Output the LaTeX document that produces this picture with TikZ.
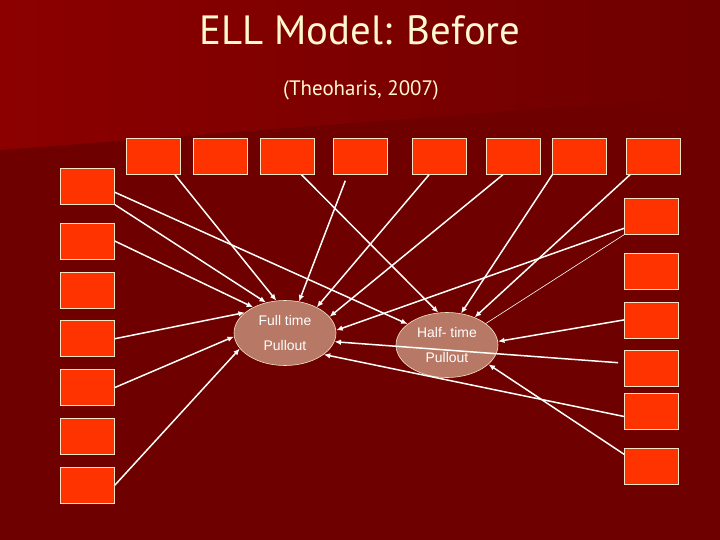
\documentclass[tikz,border=0pt]{standalone}
\usepackage{fontspec}
\setmainfont{Liberation Sans}
\newfontfamily\titlefont{PT Sans}
\usetikzlibrary{positioning,arrows.meta,shapes.geometric}
\definecolor{slidebg}{RGB}{110,0,0}
\definecolor{slidetop}{RGB}{140,0,0}
\definecolor{boxred}{RGB}{255,51,0}
\definecolor{boxedge}{RGB}{245,228,200}
\definecolor{ovalfill}{RGB}{183,121,101}
\definecolor{titlecream}{RGB}{255,248,208}

\begin{document}
\begin{tikzpicture}[
        x=1bp, y=-1bp,
        every node/.style={font=\fontsize{14}{25}\selectfont, text=white!96!boxedge},
        cell/.style={draw=boxedge, fill=boxred, line width=0.8bp, minimum width=54bp, minimum height=36bp, inner sep=0pt},
        oval/.style={ellipse, draw=boxedge, fill=ovalfill, line width=0.6bp, minimum width=102bp, minimum height=65bp, inner sep=0pt, align=center},
        arrow/.style={-{Latex[length=6.5bp,width=5.5bp]}, line width=1.5bp, white!95!boxedge},
        thinline/.style={line width=0.6bp, white!95!boxedge}
    ]
        % Background
        \useasboundingbox (0,0) rectangle (720,540);
        \fill[slidebg] (0,0) rectangle (720,540);
        \shade[left color=slidetop, right color=slidebg] (0,0) -- (720,0) -- (720,95) -- (0,150) -- cycle;

        % Titles
        \node[font=\titlefont\fontsize{41}{41}\selectfont, text=titlecream] (title) at (360,30) {ELL Model: Before};
        \node[font=\titlefont\fontsize{21}{21}\selectfont, text=titlecream] (cite) at (361,90.5) {(Theoharis, 2007)};

        % Top row
        \node[cell] (t1) at (153.5,156.3) {};
        \node[cell, right=12bp of t1] (t2) {};
        \node[cell, right=12.4bp of t2] (t3) {};
        \node[cell, right=18bp of t3] (t4) {};
        \node[cell, right=24bp of t4] (t5) {};
        \node[cell, right=19bp of t5] (t6) {};
        \node[cell, right=12bp of t6] (t7) {};
        \node[cell, right=19bp of t7] (t8) {};

        % Left column
        \node[cell] (l1) at (87.5,186.3) {};
        \node[cell, below=18bp of l1] (l2) {};
        \node[cell, below=12bp of l2] (l3) {};
        \node[cell, below=12bp of l3] (l4) {};
        \node[cell, below=12bp of l4] (l5) {};
        \node[cell, below=12bp of l5] (l6) {};
        \node[cell, below=12bp of l6] (l7) {};

        % Right column
        \node[cell] (r1) at (651.5,216.3) {};
        \node[cell, below=18bp of r1] (r2) {};
        \node[cell, below=12bp of r2] (r3) {};
        \node[cell, below=12bp of r3] (r4) {};
        \node[cell, below=6bp of r4] (r5) {};
        \node[cell, below=18bp of r5] (r6) {};

        % Pullout ovals
        \node[oval] (full) at (285,333) {Full time\\Pullout};
        \node[oval] (half) at (447,345) {Half- time\\Pullout};

        % Arrows from the left column
        \draw[arrow] ([yshift=-6bp]l1.east) -- (half.152);
        \draw[arrow] (l1.south east) -- (full.122);
        \draw[arrow] (l2.east) -- (full.141);
        \draw[arrow] (l4.east) -- (full.153);
        \draw[arrow] (l5.east) -- (full.184);
        \draw[arrow] (l7.east) -- (full.199);

        % Arrows from the top row
        \draw[arrow] ([xshift=-6bp]t1.south east) -- (full.105);
        \draw[arrow] ([xshift=14bp]t3.south) -- (half.105);
        \draw[arrow] ([xshift=-15bp,yshift=-6bp]t4.south) -- (full.66);
        \draw[arrow] ([xshift=-10bp]t5.south) -- (full.39);
        \draw[arrow] ([xshift=-10bp]t6.south) -- (full.20);
        \draw[arrow] (t7.south west) -- (half.66);
        \draw[arrow] ([xshift=4bp]t8.south west) -- (half.45);

        % Arrows from the right column
        \draw[arrow] ([yshift=-12bp]r1.west) -- (full.3);
        \draw[thinline] (r1.south west) -- (half.29);
        \draw[arrow] (r3.west) -- (half.4);
        \draw[arrow] ([xshift=-6bp,yshift=6bp]r4.west) -- (full.-10);
        \draw[arrow] ([yshift=-5bp]r5.west) -- (full.-29);
        \draw[arrow] ([yshift=12bp]r6.west) -- (half.-25);

    \end{tikzpicture}
\end{document}
